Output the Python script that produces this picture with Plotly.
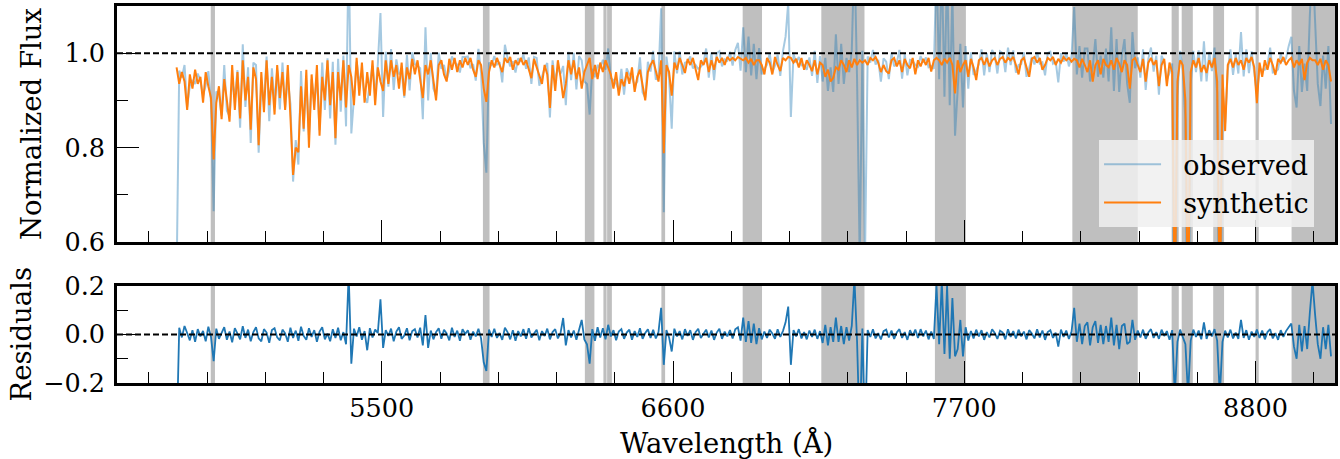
import numpy as np
import plotly.graph_objects as go

# ---------------- data ----------------
# regular wavelength sampling grid of the spectrum (Angstrom)
WL_START = 4725
WL_STEP = 10

# synthetic normalized flux, in thousandths (one row = 100 A)
SYN_MILLI = [
    970, 935, 960, 940, 880, 955, 925, 965, 935, 950,   # 4725
    895, 960, 930, 905, 775, 895, 930, 860, 945, 900,   # 4825
    855, 975, 880, 960, 862, 985, 900, 950, 838, 970,   # 4925
    945, 805, 960, 875, 985, 890, 950, 870, 975, 905,   # 5025
    960, 880, 975, 865, 742, 800, 790, 930, 840, 965,   # 5125
    800, 955, 880, 975, 825, 950, 900, 985, 890, 960,   # 5225
    820, 960, 900, 985, 885, 975, 950, 890, 990, 910,   # 5325
    980, 895, 960, 910, 985, 890, 970, 940, 920, 985,   # 5425
    935, 985, 950, 975, 925, 980, 910, 970, 945, 988,   # 5525
    955, 985, 940, 905, 975, 955, 985, 945, 900, 975,   # 5625
    985, 955, 940, 988, 965, 990, 960, 985, 970, 990,   # 5725
    975, 990, 965, 950, 985, 975, 925, 897, 960, 985,   # 5825
    970, 990, 975, 960, 990, 980, 992, 965, 985, 975,   # 5925
    990, 975, 985, 965, 947, 988, 970, 955, 935, 975,   # 6025
    955, 884, 975, 920, 985, 950, 905, 935, 985, 955,   # 6125
    985, 945, 970, 925, 960, 975, 990, 945, 975, 945,   # 6225
    980, 960, 985, 970, 955, 925, 960, 910, 945, 930,   # 6325
    960, 935, 970, 918, 950, 965, 935, 900, 960, 975,   # 6425
    985, 960, 940, 985, 788, 975, 960, 910, 980, 965,   # 6525
    990, 975, 958, 988, 975, 990, 965, 943, 985, 975,   # 6625
    990, 960, 985, 965, 992, 980, 990, 975, 992, 985,   # 6725
    990, 985, 992, 988, 985, 990, 980, 988, 975, 985,   # 6825
    985, 975, 955, 990, 980, 955, 992, 975, 962, 990,   # 6925
    985, 992, 990, 980, 988, 970, 990, 965, 985, 975,   # 7025
    962, 985, 955, 980, 975, 950, 965, 940, 948, 970,   # 7125
    965, 985, 975, 960, 985, 970, 988, 975, 985, 980,   # 7225
    985, 975, 990, 985, 992, 980, 960, 975, 962, 957,   # 7325
    985, 990, 972, 985, 960, 988, 975, 968, 990, 955,   # 7425
    985, 972, 988, 975, 990, 961, 985, 990, 985, 975,   # 7525
    988, 980, 990, 975, 915, 985, 960, 975, 985, 950,   # 7625
    988, 970, 943, 985, 990, 975, 990, 972, 985, 990,   # 7725
    975, 988, 992, 980, 990, 985, 992, 975, 955, 985,   # 7825
    990, 970, 950, 988, 992, 980, 990, 965, 975, 990,   # 7925
    985, 992, 975, 988, 980, 992, 985, 990, 982, 988,   # 8025
    985, 970, 988, 975, 960, 985, 940, 975, 985, 955,   # 8125
    988, 975, 970, 985, 965, 990, 978, 960, 985, 975,   # 8225
    925, 985, 990, 975, 960, 988, 940, 980, 990, 975,   # 8325
    985, 930, 975, 988, 930, 980, 960, 450, 940, 985,   # 8425
    975, 900, 420, 960, 985, 970, 990, 960, 975, 958,   # 8525
    985, 970, 990, 940, 430, 955, 835, 975, 988, 970,   # 8625
    990, 975, 985, 965, 990, 980, 992, 970, 894, 980,   # 8725
    950, 985, 965, 990, 975, 954, 988, 980, 992, 975,   # 8825
    985, 990, 970, 985, 975, 988, 943, 980, 990, 985,   # 8925
    985, 975, 988, 965, 985, 975, 940,                  # 9025
]

# residuals (observed - synthetic), in thousandths
RES_MILLI = [
    -450, 28, -12, 35, 6, -24, 18, -30, 22, -8,         # 4725
    15, -28, 32, -10, -110, 24, -18, 8, 30, -22,        # 4825
    12, -32, 26, 4, -20, 34, -14, 20, -28, 10,          # 4925
    30, -16, -28, 22, 8, -34, 18, 26, -12, -24,         # 5025
    20, 5, -30, 28, -14, 16, -26, 32, -6, -22,          # 5125
    26, -10, 18, -30, 12, 30, -20, 4, -28, 22,          # 5225
    -14, 28, -24, 10, -40, 250, -120, 24, -8, 30,       # 5325
    -22, 14, -65, 26, -12, 20, 6, 145, -55, 18,         # 5425
    -6, 24, -28, 12, 30, -18, -4, 26, -24, 14,          # 5525
    22, -12, 28, -45, 80, -55, 16, -20, 10, 26,         # 5625
    -18, 20, 4, -24, 28, -10, 16, -26, 22, 2,           # 5725
    18, -22, 12, -8, 24, -16, -115, -150, 20, -10,      # 5825
    24, -14, 6, -22, 28, 10, -20, 18, -26, 14,          # 5925
    -8, 22, -18, 26, -12, 4, 20, -24, 14, -6,           # 6025
    24, -20, 10, 22, -16, 6, 68, -45, 18, -12,          # 6125
    16, -22, 24, 60, -20, -40, -120, 22, -26, 30,       # 6225
    -12, 26, -20, 40, -8, 18, -24, 12, 22, -18,         # 6325
    8, 20, -22, 14, -10, 26, -18, 6, 22, -14,           # 6425
    20, -16, 10, 110, -125, 18, -12, -70, 24, -8,       # 6525
    14, -20, 22, -6, 18, -22, 10, 24, -14, 4,           # 6625
    20, -12, 16, -22, 8, 24, -18, 12, -8, 18,           # 6725
    -16, 22, 30, -25, 70, -30, 55, -35, 45, -40,        # 6825
    26, -20, 12, -14, 20, 4, -18, 22, -10, 14,          # 6925
    50, 115, -125, 18, -8, 22, -16, 10, -20, 16,        # 7025
    -10, 20, -18, 14, -35, 40, -45, 30, -30, 70,        # 7125
    -30, 35, -40, 30, -25, 35, 230, -30, -420, 25,      # 7225
    -420, 18, -10, 22, -16, 6, -20, 14, 20, -12,        # 7325
    16, -18, 8, 22, -14, 10, -22, 18, -6, 20,           # 7425
    -14, 22, -8, 16, -20, 12, -18, 200, -40, 220,       # 7525
    -80, 200, -100, 150, -90, -60, 60, -90, 30, -25,    # 7625
    14, -16, 20, -8, 18, -22, 10, -12, 22, 6,           # 7725
    -18, 16, 8, -20, 22, -10, 14, -16, 20, -8,          # 7825
    12, -20, 18, 4, -16, 22, -12, 16, -22, 10,          # 7925
    18, -14, 8, -50, 20, -10, 16, -18, 12, 110,         # 8025
    -30, 45, -40, 35, 50, -45, 30, 55, -35, 40,         # 8125
    -40, 35, -30, 70, -45, 40, -60, 35, 45, -40,        # 8225
    -30, 60, -22, 16, -12, 20, -18, 8, 22, -14,         # 8325
    10, -18, 20, -6, 14, -22, 18, -250, -30, 20,        # 8425
    -12, -40, -250, -25, 20, -10, 16, -20, 50, -18,     # 8525
    18, -8, 22, -25, -250, -30, 16, -12, 20, -16,       # 8625
    8, -18, 60, -14, 18, -22, 12, -10, 20, -14,         # 8725
    16, -20, 10, 22, -16, 6, -22, 18, -10, 14,          # 8825
    30, 45, -50, -100, 40, -70, 35, -60, 90, 220,       # 8925
    80, -40, -100, 30, -60, 40, -90,                    # 9025
]

# masked (grey) wavelength regions
MASK_START = [4854, 5882, 6267, 6337, 6351, 6556, 6863, 7160, 7589, 8108, 8483, 8521, 8640, 8800, 8936]
MASK_END = [4870, 5907, 6303, 6349, 6369, 6570, 6936, 7323, 7706, 8355, 8510, 8563, 8681, 8812, 9100]

X_RANGE = [4500, 9100]
X_TICKS = [5500, 6600, 7700, 8800]
X_MINOR_STEP = 220
FLUX_RANGE = [0.6, 1.1]
FLUX_TICKS = [0.6, 0.8, 1.0]
RES_RANGE = [-0.2, 0.2]
RES_TICKS = [-0.2, 0.0, 0.2]

# ---------------- figure ----------------
wl = WL_START + WL_STEP * np.arange(len(SYN_MILLI))
syn = np.array(SYN_MILLI) / 1000.0
res = np.array(RES_MILLI) / 1000.0
obs = syn + res

FONT = "DejaVu Serif"
W, H = 1340, 459
M_L, M_R, M_T, M_B = 117, 5, 6, 76
plot_h = H - M_T - M_B
top_dom = [(383 - 242) / plot_h, 1.0]
bot_dom = [0.0, (383 - 286) / plot_h]
NB = "\u00a0"

fig = go.Figure()
fig.add_trace(go.Scatter(x=wl, y=obs, mode="lines", name=NB * 2 + "observed",
                         line=dict(color="rgba(31,119,180,0.4)", width=2),
                         xaxis="x", yaxis="y"))
fig.add_trace(go.Scatter(x=wl, y=syn, mode="lines", name=NB * 2 + "synthetic",
                         line=dict(color="#ff7f0e", width=2),
                         xaxis="x", yaxis="y"))
fig.add_trace(go.Scatter(x=wl, y=res, mode="lines", name="residuals", showlegend=False,
                         line=dict(color="#1f77b4", width=1.8),
                         xaxis="x2", yaxis="y2"))

common = dict(showline=True, mirror=True, linecolor="black", linewidth=2.8,
              ticks="inside", tickcolor="black", tickwidth=1.2, ticklen=22,
              showgrid=False, zeroline=False, automargin=False,
              tickfont=dict(family=FONT, size=25.5, color="black"))

xcommon = dict(common, range=X_RANGE, tickmode="array", tickvals=X_TICKS,
               minor=dict(tickmode="linear", tick0=X_TICKS[0], dtick=X_MINOR_STEP,
                          ticks="inside", ticklen=11, tickcolor="black", tickwidth=1.2))

fig.update_layout(
    width=W, height=H,
    margin=dict(l=M_L, r=M_R, t=M_T, b=M_B, autoexpand=False),
    paper_bgcolor="white", plot_bgcolor="white",
    font=dict(family=FONT, color="black"),
    xaxis=dict(xcommon, anchor="y", domain=[0, 1], showticklabels=False, matches="x2"),
    xaxis2=dict(xcommon, anchor="y2", domain=[0, 1]),
    yaxis=dict(common, anchor="x", domain=top_dom, range=FLUX_RANGE,
               tickmode="array", tickvals=FLUX_TICKS, tickformat=".1f",
               ticklabelstandoff=4,
               minor=dict(tickmode="linear", tick0=0.6, dtick=0.1, ticks="inside",
                          ticklen=11, tickcolor="black", tickwidth=1.2)),
    yaxis2=dict(common, anchor="x2", domain=bot_dom, range=RES_RANGE,
                tickmode="array", tickvals=RES_TICKS, tickformat=".1f",
                ticklabelstandoff=4,
                minor=dict(tickmode="linear", tick0=-0.2, dtick=0.1, ticks="inside",
                           ticklen=11, tickcolor="black", tickwidth=1.2)),
    legend=dict(x=0.9828, xanchor="right", y=0.413, yanchor="bottom",
                bgcolor="rgba(240,240,240,0.85)", borderwidth=0,
                font=dict(family=FONT, size=27, color="black"), itemwidth=57),
    showlegend=True,
)

shapes = []
for a, b in zip(MASK_START, MASK_END):
    for xr, yr in (("x", "y domain"), ("x2", "y2 domain")):
        shapes.append(dict(type="rect", xref=xr, yref=yr, x0=a, x1=b, y0=0, y1=1,
                           fillcolor="rgba(128,128,128,0.5)", line=dict(width=0),
                           layer="below"))
shapes.append(dict(type="line", xref="x domain", yref="y", x0=0, x1=1, y0=1.0, y1=1.0,
                   line=dict(color="black", width=2, dash="6px,3px"), layer="above"))
shapes.append(dict(type="line", xref="x2 domain", yref="y2", x0=0, x1=1, y0=0.0, y1=0.0,
                   line=dict(color="black", width=2, dash="6px,3px"), layer="above"))
fig.update_layout(shapes=shapes)

TITLE_SIZE = 27.5
fig.add_annotation(text="Normalized Flux", xref="paper", yref="paper",
                   x=0, y=(top_dom[0] + top_dom[1]) / 2, xanchor="center", yanchor="middle",
                   xshift=-86, textangle=-90, showarrow=False,
                   font=dict(family=FONT, size=TITLE_SIZE, color="black"))
fig.add_annotation(text="Residuals", xref="paper", yref="paper",
                   x=0, y=(bot_dom[0] + bot_dom[1]) / 2, xanchor="center", yanchor="middle",
                   xshift=-97, textangle=-90, showarrow=False,
                   font=dict(family=FONT, size=TITLE_SIZE, color="black"))
fig.add_annotation(text="Wavelength (Å)", xref="paper", yref="paper",
                   x=0.5, y=0, xanchor="center", yanchor="middle",
                   yshift=-60, showarrow=False,
                   font=dict(family=FONT, size=TITLE_SIZE, color="black"))

fig.write_html("out.html", config={"displayModeBar": False},
               post_script="document.body.style.margin='0';document.body.style.padding='0';")
